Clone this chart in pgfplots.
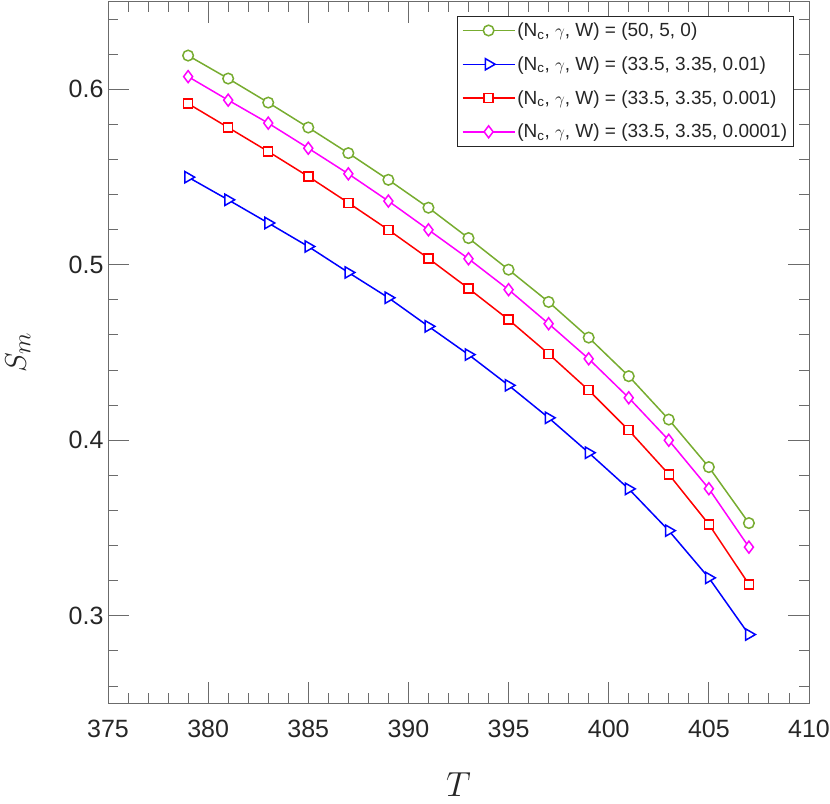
\documentclass[border=0pt]{standalone}
\usepackage{graphicx}
\usepackage{pgfplots}
\pgfplotsset{compat=1.18}
\usepackage{fontspec}
\setmainfont{Liberation Sans}
\definecolor{mgreen}{rgb}{0.466,0.674,0.188}
\definecolor{mmag}{rgb}{1,0,1}
\definecolor{mblue}{rgb}{0,0,1}
\definecolor{mred}{rgb}{1,0,0}
\definecolor{axgray}{gray}{0.42}
\definecolor{txtgray}{gray}{0.15}
\begin{document}
\begin{tikzpicture}
\begin{axis}[name=ax, scale only axis, width=701pt, height=702pt,
  xmin=375, xmax=410, ymin=0.25, ymax=0.65,
  xtick={375,380,385,390,395,400,405,410},
  ytick={0.3,0.4,0.5,0.6},
  minor xtick={376,377,378,379,381,382,383,384,386,387,388,389,391,392,393,394,396,397,398,399,401,402,403,404,406,407,408,409},
  minor ytick={0.26,0.28,0.32,0.34,0.36,0.38,0.42,0.44,0.46,0.48,0.52,0.54,0.56,0.58,0.62,0.64},
  tick align=inside, major tick length=21pt, minor tick length=10.5pt,
  axis line style={axgray, line width=0.9pt},
  every tick/.style={axgray, line width=0.9pt},
  tick label style={font=\fontsize{25}{29}\selectfont, text=txtgray},
  xticklabel style={yshift=-13pt},
  yticklabel style={xshift=-1pt},
  /pgf/number format/assume math mode=true,
  xlabel={\scalebox{1.4}{$T$}}, ylabel={\scalebox{1.2}{$S_m$}},
  xlabel style={at={([yshift=-81pt]axis description cs:0.5,0)}, anchor=center, font=\fontsize{24.88}{28}\selectfont, text=txtgray},
  ylabel style={at={([xshift=-90pt]axis description cs:0,0.5)}, anchor=center, font=\fontsize{24.88}{28}\selectfont, text=txtgray},
  legend style={at={(1,1)}, anchor=north east, xshift=-15pt, yshift=-14.5pt,
    draw=txtgray, line width=0.7pt, font=\fontsize{19}{22}\selectfont, text=txtgray,
    inner sep=4.5pt, row sep=14.5pt},
  legend cell align=left,
  legend image code/.code={\draw[mark repeat=2,mark phase=2] plot coordinates {(0pt,0pt) (26pt,0pt) (52pt,0pt)};},
]
\addplot[mgreen, line width=1.5pt, mark=*, mark size=5.3pt, mark options={fill=white, solid}] coordinates {
(379,0.6192) (381,0.6061) (383,0.5924) (385,0.5782) (387,0.5636) (389,0.5484) (391,0.5325) (393,0.5152) (395,0.4972) (397,0.4788) (399,0.4585) (401,0.4365) (403,0.4118) (405,0.3847) (407,0.3528)};
\addlegendentry{(N\textsubscript{c}, $\gamma$, W) = (50, 5, 0)}
\addplot[mblue, line width=1.5pt, mark=triangle*, mark size=6.5pt, mark options={fill=white, solid, rotate=-90}] coordinates {
(379,0.5499) (381,0.5370) (383,0.5238) (385,0.5104) (387,0.4956) (389,0.4812) (391,0.4649) (393,0.4488) (395,0.4313) (397,0.4128) (399,0.3929) (401,0.3723) (403,0.3485) (405,0.3216) (407,0.2893)};
\addlegendentry{(N\textsubscript{c}, $\gamma$, W) = (33.5, 3.35, 0.01)}
\addplot[mred, line width=1.5pt, mark=square*, mark size=4.5pt, mark options={fill=white, solid}] coordinates {
(379,0.5918) (381,0.5782) (383,0.5645) (385,0.5503) (387,0.5353) (389,0.5199) (391,0.5036) (393,0.4865) (395,0.4687) (397,0.4492) (399,0.4285) (401,0.4057) (403,0.3806) (405,0.3521) (407,0.3179)};
\addlegendentry{(N\textsubscript{c}, $\gamma$, W) = (33.5, 3.35, 0.001)}
\addplot[mmag, line width=1.5pt, mark=diamond*, mark size=6pt, mark options={fill=white, solid}] coordinates {
(379,0.6072) (381,0.5938) (383,0.5807) (385,0.5664) (387,0.5518) (389,0.5363) (391,0.5199) (393,0.5034) (395,0.4858) (397,0.4664) (399,0.4464) (401,0.4242) (403,0.4000) (405,0.3724) (407,0.3391)};
\addlegendentry{(N\textsubscript{c}, $\gamma$, W) = (33.5, 3.35, 0.0001)}
\end{axis}
\pgfresetboundingbox
\path ([xshift=-108pt,yshift=-99.7pt]ax.south west) rectangle ([xshift=21pt,yshift=1.5pt]ax.north east);
\end{tikzpicture}
\end{document}
